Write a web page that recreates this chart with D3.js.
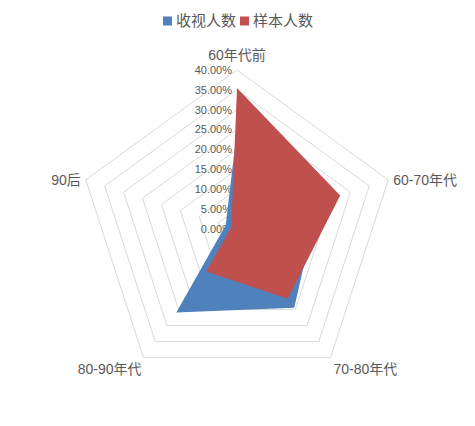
<!DOCTYPE html>
<html>
<head>
<meta charset="utf-8">
<script src="https://cdn.jsdelivr.net/npm/d3@7"></script>
<style>
  html, body { margin: 0; padding: 0; background: #fff; }
  svg { display: block; font-family: "Liberation Sans", "Noto Sans CJK SC", sans-serif; }
</style>
</head>
<body>
<svg id="chart"></svg>
<script>
// Data
const categories = ['60年代前', '60-70年代', '70-80年代', '80-90年代', '90后'];
const seriesNames = ['收视人数', '样本人数'];
const viewers = [0.25, 0.215, 0.245, 0.26, 0.03];
const sample = [0.355, 0.273, 0.217, 0.132, 0.015];
const ticks = [0, 0.05, 0.10, 0.15, 0.20, 0.25, 0.30, 0.35, 0.40];
const colors = ['#4F81BD', '#C0504D'];

const width = 475, height = 426;
const cx = 237, cy = 229, R = 159;

const svg = d3.select('#chart').attr('width', width).attr('height', height);

const r = d3.scaleLinear().domain([0, 0.4]).range([0, R]);
const angle = d3.scaleLinear().domain([0, categories.length]).range([0, 2 * Math.PI]);
const fmt = d3.format('.2%');

const g = svg.append('g').attr('transform', `translate(${cx},${cy})`);

// Grid rings
const ring = d3.lineRadial()
    .angle((d, i) => angle(i))
    .radius(d => r(d))
    .curve(d3.curveLinearClosed);

g.append('g').selectAll('path')
    .data(ticks.slice(1))
    .join('path')
    .attr('d', t => ring(categories.map(() => t)))
    .attr('fill', 'none')
    .attr('stroke', '#d9d9d9')
    .attr('stroke-width', 1);

// Tick labels along top axis
g.append('g').selectAll('text')
    .data(ticks)
    .join('text')
    .attr('x', -5)
    .attr('y', t => -r(t))
    .attr('dy', '0.35em')
    .attr('text-anchor', 'end')
    .attr('fill', '#595959')
    .style('font-size', '11px')
    .text(t => fmt(t));

// Series
const area = d3.lineRadial()
    .angle((d, i) => angle(i))
    .radius(d => r(d))
    .curve(d3.curveLinearClosed);

g.append('g').selectAll('path')
    .data([viewers, sample])
    .join('path')
    .attr('d', d => area(d))
    .attr('fill', (d, i) => colors[i]);

// Category labels, placed off the outer ring vertices
const vx = i => Math.sin(angle(i)) * R;
const vy = i => -Math.cos(angle(i)) * R;
const lblDx = [0, 5, 3, -2, -5];
const lblDy = [-15, 0, 11, 11, 0];
const lblAnchor = ['middle', 'start', 'start', 'end', 'end'];

g.append('g').selectAll('text')
    .data(categories)
    .join('text')
    .attr('x', (d, i) => vx(i) + lblDx[i])
    .attr('y', (d, i) => vy(i) + lblDy[i])
    .attr('dy', '0.35em')
    .attr('text-anchor', (d, i) => lblAnchor[i])
    .attr('fill', '#595959')
    .style('font-size', '14px')
    .text(d => d);

// Legend
const legend = svg.append('g').attr('transform', 'translate(163,21)');
const item = legend.selectAll('g')
    .data(seriesNames)
    .join('g')
    .attr('transform', (d, i) => `translate(${i * 77},0)`);
item.append('rect')
    .attr('x', 0).attr('y', -4.5)
    .attr('width', 9).attr('height', 9)
    .attr('fill', (d, i) => colors[i]);
item.append('text')
    .attr('x', 13)
    .attr('dy', '0.35em')
    .attr('fill', '#595959')
    .style('font-size', '15px')
    .text(d => d);
</script>
</body>
</html>
